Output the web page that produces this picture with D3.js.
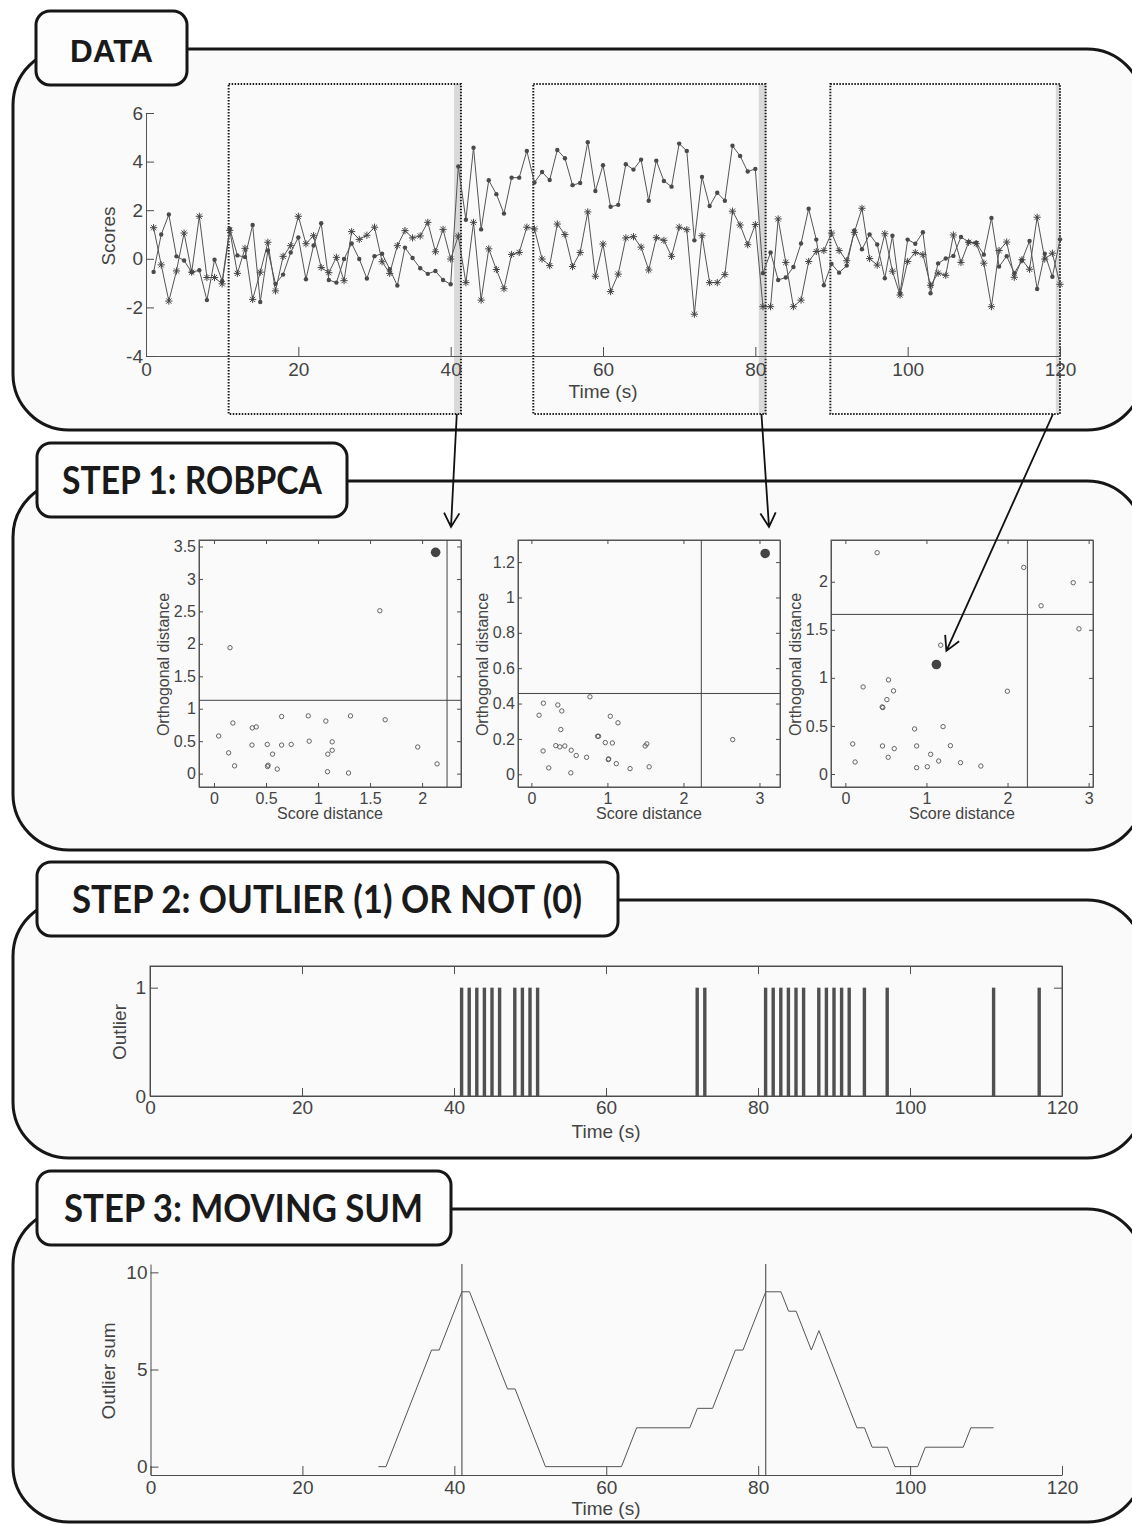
<!DOCTYPE html>
<html>
<head>
<meta charset="utf-8">
<title>Outlier detection steps</title>
<script src="https://cdnjs.cloudflare.com/ajax/libs/d3/7.8.5/d3.min.js"></script>
<style>
  body { margin: 0; background: #ffffff; }
</style>
</head>
<body>
<div id="fig"></div>
<script>
// ---------------- data ----------------
// one sample per second, t = 1..120
const time = d3.range(1, 121);

const scoreDot = [
  -0.54, 1.0, 1.82, 0.1, -0.07, -0.55, -0.47, -1.7, -0.04, -0.91,
  1.24, 0.14, 0.07, 1.39, -1.78, 0.34, -1.03, -0.65, 0.26, 0.88,
  -0.84, 0.55, 1.46, -0.87, -0.98, -0.01, 0.63, -0.01, -0.81, 0.11,
  0.21, -0.43, -1.1, 0.46, 0.03, -0.39, -0.62, -0.5, -0.87, -1.05,
  3.8, 1.61, 4.57, 1.21, 3.23, 2.66, 1.86, 3.34, 3.34, 4.44,
  3.14, 3.57, 3.24, 4.48, 4.14, 3.03, 3.12, 4.8, 2.79, 3.85,
  2.14, 2.22, 3.89, 3.67, 4.08, 2.39, 4.04, 3.2, 2.97, 4.74,
  4.44, 0.76, 3.37, 2.17, 2.72, 2.39, 4.65, 4.23, 3.59, 3.7,
  -0.59, 0.26, -0.87, -0.77, -0.34, 0.63, 2.06, 0.79, -1.09, -0.21,
  -0.57, -0.28, 1.17, 0.39, 1.0, 0.59, -0.8, 0.95, -1.42, 0.79,
  0.62, 1.09, -1.42, -0.19, 0.01, 0.12, 0.9, 0.69, 0.66, 0.17,
  1.68, -0.32, 0.11, -0.59, -0.07, 0.73, -1.24, 0.21, -0.74, 0.8
];

const scoreStar = [
  1.28, -0.25, -1.74, -0.5, 1.06, -0.55, 1.75, -0.77, -0.77, -1.03,
  1.17, -0.6, 0.43, -1.67, -0.55, 0.68, -1.32, 0.1, 0.54, 1.75,
  0.62, 0.95, -0.36, -0.57, 0.06, -0.9, 1.12, 0.8, 0.97, 1.3,
  -0.12, -0.6, 0.54, 1.16, 0.86, 0.94, 1.5, 0.29, 1.21, -0.01,
  0.94, -0.98, 1.5, -1.7, 0.41, -0.44, -1.23, 0.18, 0.26, 1.3,
  1.23, -0.01, -0.28, 1.43, 1.0, -0.32, 0.26, 1.93, -0.72, 0.61,
  -1.35, -0.63, 0.86, 0.91, 0.48, -0.46, 0.87, 0.76, 0.1, 1.3,
  1.2, -2.28, 0.95, -0.98, -0.98, -0.65, 1.96, 1.39, 0.58, 1.41,
  -1.97, -1.97, 1.64, -0.15, -1.97, -1.7, -0.11, 0.3, 0.34, 1.06,
  0.34, -0.08, 1.09, 2.08, 0.01, -0.26, 1.03, -0.51, -1.49, -0.11,
  0.26, 0.17, -1.09, -0.59, -0.68, 0.98, -0.15, 0.68, 0.62, -0.18,
  -1.97, 0.34, 0.69, -0.76, -0.04, -0.43, 1.71, -0.01, 0.23, -1.05
];

const windowEnds = [41, 81, 120];
const windowLen = 30;

// ROBPCA diagnostic plots, one per window (score distance / orthogonal distance)
const sd1 = [0.045, 0.154, 0.141, 0.182, 0.198, 0.368, 0.406, 0.365, 0.512, 0.515,
             0.52, 0.563, 0.608, 0.65, 0.65, 0.742, 0.906, 0.915, 1.075, 1.136,
             1.136, 1.094, 1.091, 1.293, 1.312, 1.594, 1.645, 1.958, 2.144];
const od1 = [0.58, 1.94, 0.32, 0.78, 0.12, 0.705, 0.72, 0.44, 0.45, 0.11,
             0.13, 0.30, 0.07, 0.88, 0.44, 0.45, 0.89, 0.50, 0.81, 0.49,
             0.36, 0.30, 0.03, 0.01, 0.89, 2.51, 0.83, 0.41, 0.15];

const sd2 = [0.101, 0.158, 0.154, 0.229, 0.321, 0.348, 0.374, 0.4, 0.387, 0.44,
             0.524, 0.519, 0.59, 0.726, 0.77, 0.871, 0.884, 0.972, 1.012, 1.016,
             1.038, 1.065, 1.117, 1.139, 1.298, 1.496, 1.518, 1.549, 2.648];
const od2 = [0.334, 0.402, 0.132, 0.036, 0.162, 0.392, 0.155, 0.358, 0.253, 0.16,
             0.136, 0.008, 0.106, 0.096, 0.438, 0.215, 0.215, 0.179, 0.083, 0.087,
             0.328, 0.177, 0.06, 0.291, 0.032, 0.16, 0.172, 0.042, 0.196];

const sd3 = [0.392, 0.091, 0.12, 0.219, 0.454, 0.462, 0.512, 0.532, 0.594, 0.458,
             0.528, 0.603, 0.854, 0.879, 0.879, 1.011, 1.052, 1.151, 1.176, 1.205,
             1.296, 1.42, 1.671, 1.998, 2.2, 2.414, 2.81, 2.881];
const od3 = [2.302, 0.313, 0.125, 0.906, 0.698, 0.691, 0.774, 0.979, 0.865, 0.292,
             0.174, 0.264, 0.469, 0.292, 0.066, 0.076, 0.205, 0.135, 1.34, 0.493,
             0.295, 0.118, 0.083, 0.861, 2.149, 1.75, 1.99, 1.51];

// last sample of each window (big dot) and the cut-off lines
const lastSd = [2.13, 3.075, 1.123];
const lastOd = [3.41, 1.249, 1.139];
const cutSd = [2.24, 2.235, 2.245];
const cutOd = [1.13, 0.457, 1.66];
const sdLims = [[-0.144, 2.374], [-0.176, 3.27], [-0.177, 3.054]];
const odLims = [[-0.206, 3.60], [-0.072, 1.325], [-0.135, 2.434]];
const sdTicks = [[0, 0.5, 1, 1.5, 2], [0, 1, 2, 3], [0, 1, 2, 3]];
const odTicks = [[0, 0.5, 1, 1.5, 2, 2.5, 3, 3.5], [0, 0.2, 0.4, 0.6, 0.8, 1, 1.2], [0, 0.5, 1, 1.5, 2]];

// step 2: seconds flagged as outlier
const outlierTimes = [41, 42, 43, 44, 45, 46, 48, 49, 50, 51, 72, 73,
                      81, 82, 83, 84, 85, 86, 88, 89, 90, 91, 92, 94, 97, 111, 117];

// step 3: moving sum (corners of the line)
const sumTime = [30, 31, 37, 38, 41, 42, 47, 48, 52, 62, 64, 71, 72, 74, 77, 78,
                 81, 83, 84, 85, 87, 88, 93, 94, 95, 97, 98, 101, 102, 107, 108, 111];
const sumValue = [0, 0, 6, 6, 9, 9, 4, 4, 0, 0, 2, 2, 3, 3, 6, 6,
                  9, 9, 8, 8, 6, 7, 2, 2, 1, 1, 0, 0, 1, 1, 2, 2];
const sumMarks = [41, 81];

const timeTicks = [0, 20, 40, 60, 80, 100, 120];
const scoreTicks = [-4, -2, 0, 2, 4, 6];
const outlierTicks = [0, 1];
const sumTicks = [0, 5, 10];

const panelLabels = ["DATA", "STEP 1: ROBPCA", "STEP 2: OUTLIER (1) OR NOT (0)", "STEP 3: MOVING SUM"];

// ---------------- drawing ----------------
const W = 1132, H = 1525;
const axisFont = "'Liberation Sans', Arial, Helvetica, sans-serif";
const ink = "#4d4d4d";
const plain = d => String(d);   // matlab style tick text: "0.5", "1", "-2"

const svg = d3.select("#fig").append("svg")
    .attr("width", W).attr("height", H)
    .style("background", "#ffffff");

// panel frames with tab labels
const frameTop = [49, 481, 900, 1209],
      frameBottom = [430, 850, 1158, 1522],
      tabX = [[36, 187], [37, 347], [37, 618], [37, 451]],
      textX = [[70, 153], [62, 322], [72, 582], [64, 423]];

panelLabels.forEach(function (label, i) {
    svg.append("rect")
        .attr("x", 13).attr("y", frameTop[i])
        .attr("width", 1130).attr("height", frameBottom[i] - frameTop[i])
        .attr("rx", 56).attr("ry", 56)
        .attr("fill", "#fafafa")
        .attr("stroke", "#161616").attr("stroke-width", 3);

    svg.append("rect")
        .attr("x", tabX[i][0]).attr("y", frameTop[i] - 38)
        .attr("width", tabX[i][1] - tabX[i][0]).attr("height", 74)
        .attr("rx", 14).attr("ry", 14)
        .attr("fill", "#fdfdfd")
        .attr("stroke", "#161616").attr("stroke-width", 3);

    svg.append("text")
        .attr("x", textX[i][0]).attr("y", frameTop[i] + 13)
        .attr("textLength", textX[i][1] - textX[i][0])
        .attr("lengthAdjust", "spacingAndGlyphs")
        .style("font-family", i === 0 ? axisFont : "Lato, 'Open Sans', sans-serif")
        .style("font-weight", "bold")
        .style("font-size", i === 0 ? "31px" : "38px")
        .style("fill", "#1a1a1a")
        .text(label);
});

function styleAxis(g, size) {
    g.attr("font-family", axisFont).attr("font-size", size).attr("color", ink);
    g.selectAll("text").attr("fill", "#444");
    return g;
}

function axisLabel(text, x, y, size, rotate) {
    svg.append("text")
        .attr("transform", `translate(${x},${y})` + (rotate ? " rotate(-90)" : ""))
        .attr("text-anchor", "middle")
        .attr("dy", rotate ? "0.35em" : 0)
        .style("font-family", axisFont).style("font-size", size + "px")
        .style("fill", "#444")
        .text(text);
}

// ---- DATA panel ----
const xT = d3.scaleLinear().domain([0, 120]).range([146, 1060]);
const yS = d3.scaleLinear().domain([-4, 6]).range([356, 113]);

// 30 s windows with the last sample shaded
windowEnds.forEach(function (end) {
    const x0 = xT(end - windowLen - 0.15),
          x1 = xT(Math.min(end + 0.35, 120)),
          xs = xT(end - 0.55);
    svg.append("rect")
        .attr("x", xs).attr("y", 84).attr("width", x1 - xs).attr("height", 330)
        .attr("fill", "#d9d9d9");
    svg.append("rect")
        .attr("x", x0).attr("y", 84).attr("width", x1 - x0).attr("height", 330)
        .attr("fill", "none").attr("stroke", "#1c1c1c")
        .attr("stroke-width", 2).attr("stroke-dasharray", "1.5,1.5");
});

styleAxis(svg.append("g").attr("transform", "translate(0,356)")
    .call(d3.axisBottom(xT).tickValues(timeTicks).tickFormat(plain).tickSize(-9).tickSizeOuter(0).tickPadding(7)), 19);
styleAxis(svg.append("g").attr("transform", "translate(146,0)")
    .call(d3.axisLeft(yS).tickValues(scoreTicks).tickFormat(plain).tickSize(-8).tickSizeOuter(0).tickPadding(3)), 19);

const scoreLine = d3.line().x((d, i) => xT(time[i])).y(d => yS(d));

svg.append("path").datum(scoreDot).attr("d", scoreLine)
    .attr("fill", "none").attr("stroke", "#555").attr("stroke-width", 1);
svg.append("path").datum(scoreStar).attr("d", scoreLine)
    .attr("fill", "none").attr("stroke", "#555").attr("stroke-width", 1);

svg.append("g").selectAll("circle").data(scoreDot).join("circle")
    .attr("cx", (d, i) => xT(time[i])).attr("cy", d => yS(d))
    .attr("r", 2.2).attr("fill", "#4a4a4a");

const star = "M-3.6,0H3.6M0,-3.6V3.6M-2.6,-2.6L2.6,2.6M-2.6,2.6L2.6,-2.6";
svg.append("g").selectAll("path").data(scoreStar).join("path")
    .attr("transform", (d, i) => `translate(${xT(time[i])},${yS(d)})`)
    .attr("d", star).attr("fill", "none").attr("stroke", "#444").attr("stroke-width", 1);

axisLabel("Scores", 108, 236, 19, true);
axisLabel("Time (s)", 603, 398, 19, false);

// ---- STEP 1: ROBPCA diagnostic plots ----
const sdAll = [sd1, sd2, sd3], odAll = [od1, od2, od3];
const boxLeft = [199, 518, 831], boxW = 262, boxTop = 540, boxBottom = 787;
const diagScales = [];

[0, 1, 2].forEach(function (i) {
    const left = boxLeft[i], right = left + boxW;
    const x = d3.scaleLinear().domain(sdLims[i]).range([left, right]);
    const y = d3.scaleLinear().domain(odLims[i]).range([boxBottom, boxTop]);
    diagScales.push({x: x, y: y});

    svg.append("rect")
        .attr("x", left).attr("y", boxTop).attr("width", boxW).attr("height", boxBottom - boxTop)
        .attr("fill", "none").attr("stroke", "#555").attr("stroke-width", 1);

    styleAxis(svg.append("g").attr("transform", `translate(0,${boxBottom})`)
        .call(d3.axisBottom(x).tickValues(sdTicks[i]).tickFormat(plain).tickSize(-4).tickSizeOuter(0).tickPadding(6)), 16);
    styleAxis(svg.append("g").attr("transform", `translate(0,${boxTop})`)
        .call(d3.axisTop(x).tickValues(sdTicks[i]).tickSize(-4).tickSizeOuter(0).tickFormat("")), 16);
    styleAxis(svg.append("g").attr("transform", `translate(${left},0)`)
        .call(d3.axisLeft(y).tickValues(odTicks[i]).tickFormat(plain).tickSize(-4).tickSizeOuter(0).tickPadding(3)), 16);
    styleAxis(svg.append("g").attr("transform", `translate(${right},0)`)
        .call(d3.axisRight(y).tickValues(odTicks[i]).tickSize(-4).tickSizeOuter(0).tickFormat("")), 16);

    svg.selectAll(".domain").attr("stroke", "#555");

    // cut-off lines
    svg.append("line")
        .attr("x1", x(cutSd[i])).attr("x2", x(cutSd[i]))
        .attr("y1", boxTop).attr("y2", boxBottom)
        .attr("stroke", "#444").attr("stroke-width", 1);
    svg.append("line")
        .attr("x1", left).attr("x2", right)
        .attr("y1", y(cutOd[i])).attr("y2", y(cutOd[i]))
        .attr("stroke", "#444").attr("stroke-width", 1);

    svg.append("g").selectAll("circle").data(sdAll[i]).join("circle")
        .attr("cx", d => x(d)).attr("cy", (d, j) => y(odAll[i][j]))
        .attr("r", 2.2).attr("fill", "none").attr("stroke", "#555").attr("stroke-width", 0.9);

    svg.append("circle")
        .attr("cx", x(lastSd[i])).attr("cy", y(lastOd[i]))
        .attr("r", 4.8).attr("fill", "#444");

    axisLabel("Orthogonal distance", left - 36, (boxTop + boxBottom) / 2 + 1, 16, true);
    axisLabel("Score distance", (left + right) / 2, 819, 16, false);
});

// arrows from the shaded samples to the diagnostic plots
function arrow(x0, y0, x1, y1) {
    const a = Math.atan2(y1 - y0, x1 - x0), L = 16, s = 0.5;
    svg.append("path")
        .attr("d", `M${x0},${y0}L${x1},${y1}` +
            `M${x1 - L * Math.cos(a - s)},${y1 - L * Math.sin(a - s)}L${x1},${y1}` +
            `L${x1 - L * Math.cos(a + s)},${y1 - L * Math.sin(a + s)}`)
        .attr("fill", "none").attr("stroke", "#111").attr("stroke-width", 1.8)
        .attr("stroke-linejoin", "miter");
}
arrow(xT(windowEnds[0]) - 1.5, 414, boxLeft[0] + boxW - 10, 527);
arrow(xT(windowEnds[1]) - 1.5, 414, boxLeft[1] + boxW - 11, 527);
arrow(xT(windowEnds[2]) - 7, 414, diagScales[2].x(1.246), diagScales[2].y(1.281));

// ---- STEP 2: outlier flags ----
const x2 = d3.scaleLinear().domain([0, 120]).range([150, 1062]);
const y2 = d3.scaleLinear().domain([0, 1.2]).range([1096, 966]);

svg.append("rect")
    .attr("x", 150).attr("y", 966).attr("width", 912).attr("height", 130)
    .attr("fill", "none").attr("stroke", "#555").attr("stroke-width", 1);

styleAxis(svg.append("g").attr("transform", "translate(0,1096)")
    .call(d3.axisBottom(x2).tickValues(timeTicks).tickFormat(plain).tickSize(-8).tickSizeOuter(0).tickPadding(5)), 19);
styleAxis(svg.append("g").attr("transform", "translate(0,966)")
    .call(d3.axisTop(x2).tickValues(timeTicks).tickSize(-8).tickSizeOuter(0).tickFormat("")), 19);
styleAxis(svg.append("g").attr("transform", "translate(150,0)")
    .call(d3.axisLeft(y2).tickValues(outlierTicks).tickFormat(plain).tickSize(-8).tickSizeOuter(0).tickPadding(4)), 19);
styleAxis(svg.append("g").attr("transform", "translate(1062,0)")
    .call(d3.axisRight(y2).tickValues(outlierTicks).tickSize(-8).tickSizeOuter(0).tickFormat("")), 19);

svg.append("g").selectAll("rect").data(outlierTimes).join("rect")
    .attr("x", d => x2(d) - 1.7).attr("width", 3.4)
    .attr("y", y2(1)).attr("height", y2(0) - y2(1))
    .attr("fill", "#505050");

axisLabel("Outlier", 119, 1032, 19, true);
axisLabel("Time (s)", 606, 1138, 19, false);

// ---- STEP 3: moving sum ----
const x3 = d3.scaleLinear().domain([0, 120]).range([150.5, 1062]);
const y3 = d3.scaleLinear().domain([-0.43, 10.43]).range([1475, 1264]);

styleAxis(svg.append("g").attr("transform", "translate(0,1475)")
    .call(d3.axisBottom(x3).tickValues(timeTicks).tickFormat(plain).tickSize(-9).tickSizeOuter(0).tickPadding(6)), 19);
styleAxis(svg.append("g").attr("transform", "translate(150.5,0)")
    .call(d3.axisLeft(y3).tickValues(sumTicks).tickFormat(plain).tickSize(-8).tickSizeOuter(0).tickPadding(3)), 19);

svg.append("g").selectAll("line").data(sumMarks).join("line")
    .attr("x1", d => x3(d)).attr("x2", d => x3(d))
    .attr("y1", 1264).attr("y2", 1475)
    .attr("stroke", "#3a3a3a").attr("stroke-width", 1);

svg.append("path").datum(sumValue)
    .attr("d", d3.line().x((d, i) => x3(sumTime[i])).y(d => y3(d)))
    .attr("fill", "none").attr("stroke", "#555").attr("stroke-width", 1);

axisLabel("Outlier sum", 108, 1371, 19, true);
axisLabel("Time (s)", 606, 1515, 19, false);
</script>
</body>
</html>
